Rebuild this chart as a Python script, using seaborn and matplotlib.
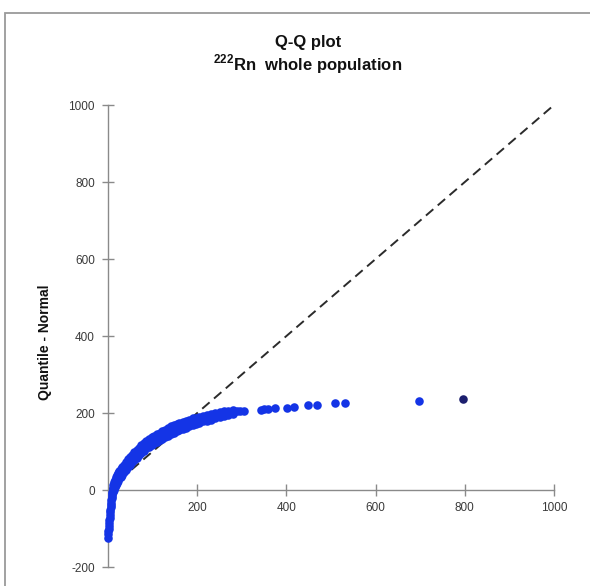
import matplotlib
matplotlib.use("Agg")
import matplotlib.pyplot as plt
import seaborn as sns
import pandas as pd
from matplotlib.patches import Rectangle

# Observed 222Rn values (x) against the matching normal quantiles (y)
radon = [
    0, 1, 1, 2, 2, 3, 3, 4, 4, 5,
    5, 6, 6, 7, 7, 8, 8, 9, 10, 11,
    12, 14, 16, 18, 20, 22, 25, 28, 31, 35,
    40, 45, 50, 54, 59, 64, 69, 74, 80, 86,
    92, 98, 104, 110, 116, 122, 128, 135, 141, 147,
    154, 160, 167, 175, 182, 190, 197, 205, 214, 223,
    231, 240, 250, 260, 270, 280, 289, 297, 304,
    342, 350, 358, 375, 402, 418, 448, 468, 510, 532, 697,
]
normal_quantile = [
    -125, -115, -107, -100, -93, -86, -79, -72, -65, -58,
    -51, -45, -39, -33, -27, -22, -16, -11, -6, -1,
    4, 11, 17, 23, 29, 34, 40, 45, 50, 56,
    63, 70, 76, 82, 88, 94, 100, 106, 112, 118,
    123, 127, 131, 135, 139, 143, 147, 151, 155, 159,
    162, 165, 169, 172, 176, 179, 182, 185, 188, 190,
    193, 195, 198, 200, 202, 203, 204, 205, 206,
    209, 210, 211, 212, 213, 215, 220, 222, 225, 227, 230,
]

# tied observations lying just above and below the main run
radon_tied = [
    12, 14, 16, 18, 20, 22, 25, 28, 31, 35,
    40, 45, 50, 54, 59, 64, 69, 74, 80, 86,
    92, 98, 104, 110, 116, 122, 128, 135, 141, 147,
    154, 160, 167, 175, 182, 190, 197, 205, 214, 223,
    231, 240, 250, 260, 270, 280,
]
quantile_hi = [
    14, 21, 27, 33, 39, 44, 50, 55, 60, 66,
    73, 80, 86, 92, 98, 104, 110, 116, 122, 128,
    133, 137, 141, 145, 149, 153, 157, 161, 165, 169,
    171, 174, 177, 180, 183, 186, 188, 190, 193, 195,
    197, 199, 202, 204, 206, 207,
]
quantile_lo = [
    -6, 1, 7, 13, 19, 24, 30, 35, 40, 46,
    53, 60, 66, 72, 78, 84, 90, 96, 102, 108,
    113, 117, 121, 125, 129, 133, 137, 141, 145, 149,
    152, 155, 159, 162, 166, 169, 172, 175, 178, 180,
    183, 186, 190, 193, 196, 198,
]

# highest observation
radon_max = [795]
quantile_max = [236]

# y = x reference line
reference = [0, 1000]

x_ticks = [200, 400, 600, 800, 1000]
y_ticks = [-200, 0, 200, 400, 600, 800, 1000]

sns.set_theme(style="white")
plt.rcParams["font.family"] = ["Liberation Sans", "DejaVu Sans"]
plt.rcParams["mathtext.fontset"] = "custom"
plt.rcParams["mathtext.rm"] = "Liberation Sans"
plt.rcParams["mathtext.bf"] = "Liberation Sans:bold"

df = pd.DataFrame({
    "radon": radon + radon_tied + radon_tied,
    "quantile": normal_quantile + quantile_hi + quantile_lo,
})
top = pd.DataFrame({"radon": radon_max, "quantile": quantile_max})
ref_df = pd.DataFrame({"x": reference, "y": reference})

fig = plt.figure(figsize=(5.9, 5.86), dpi=100)
fig.patch.set_facecolor("white")
ax = fig.add_axes([0.1831, 0.0324, 0.7559, 0.7884])

sns.lineplot(data=ref_df, x="x", y="y", ax=ax, color="#2b2b2b",
             linewidth=1.4, linestyle=(0, (5, 3)), zorder=2)

blue = "#1434e6"
sns.scatterplot(data=df, x="radon", y="quantile", ax=ax, color=blue,
                s=38, edgecolor=blue, linewidth=0, clip_on=False, zorder=3)
sns.scatterplot(data=top, x="radon", y="quantile", ax=ax, color="#1c1f6e",
                s=38, edgecolor="#1c1f6e", linewidth=0, clip_on=False, zorder=3)

ax.set_xlim(0, 1000)
ax.set_ylim(-200, 1000)
ax.set_xticks(x_ticks)
ax.set_yticks(y_ticks)
ax.set_xticklabels([str(v) for v in x_ticks])
ax.set_yticklabels([str(v) for v in y_ticks])

# axes cross at the origin
ax.spines["left"].set_position(("data", 0))
ax.spines["bottom"].set_position(("data", 0))
for side in ("top", "right"):
    ax.spines[side].set_visible(False)
for side in ("left", "bottom"):
    ax.spines[side].set_color("#8a8a8a")
    ax.spines[side].set_linewidth(1.0)

ax.tick_params(axis="both", which="major", bottom=True, left=True,
               direction="inout", length=9, width=1.0,
               color="#8a8a8a", labelsize=8.5, labelcolor="#3a3a3a")
ax.tick_params(axis="x", pad=4)
ax.tick_params(axis="y", pad=5)

ax.set_xlabel("")
ax.set_ylabel("")
ax.set_facecolor("white")

fig.text(0.076, 0.416, "Quantile - Normal", rotation=90, ha="center",
         va="center", fontsize=10, fontweight="bold", color="#111111")

fig.text(0.522, 0.928, "Q-Q plot", ha="center", va="center",
         fontsize=12, fontweight="bold", color="#111111")
fig.text(0.522, 0.890, r"$^{\mathbf{222}}$Rn  whole population", ha="center",
         va="center", fontsize=12, fontweight="bold", color="#111111")

# chart border
fig.patches.append(Rectangle((5 / 590, -0.01), 1.0, 1 - 13 / 586 + 0.01,
                             transform=fig.transFigure, fill=False,
                             edgecolor="#9a9a9a", linewidth=1.3))

fig.savefig("out.png", dpi=100, facecolor="white")
